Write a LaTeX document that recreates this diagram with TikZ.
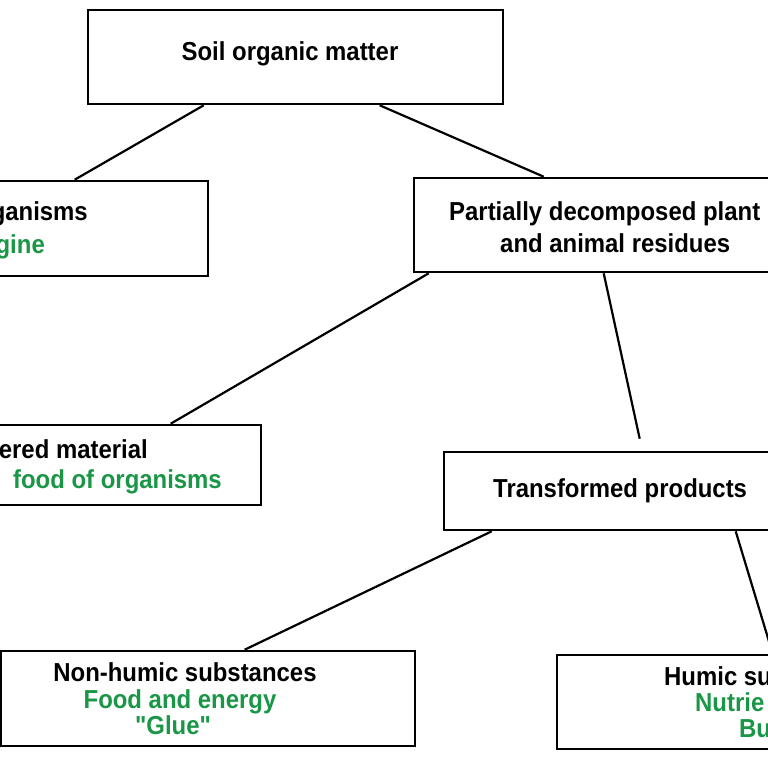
\documentclass[tikz,border=0pt]{standalone}
\usepackage{fontspec}
\setmainfont{Liberation Sans}[FakeStretch=0.92]
\newfontfamily\plainq{Liberation Sans}[FakeStretch=0.92]
\definecolor{grn}{RGB}{25,150,70}
\begin{document}
\begin{tikzpicture}[x=1pt,y=-1pt,
  box/.style={draw,line width=2.6pt,fill=none,inner sep=0pt},
  txt/.style={font=\fontsize{26}{30}\selectfont\bfseries,inner sep=0pt},
  gtxt/.style={txt,text=grn},
  link/.style={line width=2.2pt}]
\useasboundingbox (0,0) rectangle (768,768);
\fill[white] (0,0) rectangle (768,768);
\clip (0,0) rectangle (768,768);
% boxes
\node[box,minimum width=415pt,minimum height=94pt] (top) at (295.5,57) {};
\node[box,minimum width=268pt,minimum height=95pt] (org) at (74,228.5) {};
\node[box,minimum width=386pt,minimum height=94pt] (partial) at (607,225) {};
\node[box,minimum width=302pt,minimum height=80pt] (unalt) at (110,465) {};
\node[box,minimum width=376pt,minimum height=78pt] (trans) at (632,491) {};
\node[box,minimum width=414pt,minimum height=95pt] (nonh) at (208,698.5) {};
\node[box,minimum width=292pt,minimum height=94pt] (humic) at (703,702) {};
% connectors
\draw[link] ([xshift=117pt]top.south west) -- ([xshift=136pt]org.north west);
\draw[link] ([xshift=293pt]top.south west) -- ([xshift=131pt]partial.north west);
\draw[link] ([xshift=16pt]partial.south west) -- ([xshift=213pt]unalt.north west);
\coordinate (tend) at ([xshift=197pt,yshift=12pt]trans.north west);
\draw[link] ([xshift=191pt]partial.south west) -- (tend);
\draw[link] ([xshift=49pt]trans.south west) -- ([xshift=245pt]nonh.north west);
\draw[link] ([xshift=293pt]trans.south west) -- ([xshift=217pt]humic.north west);
% texts
\node[txt,anchor=base] (t1) at (290,61) {Soil organic matter};
\node[txt,anchor=base east] (t2) at (88,220) {ganisms};
\node[gtxt,anchor=base east] (t3) at (45,253) {gine};
\node[txt,anchor=base west] (t4) at (449,220) {Partially decomposed plant};
\node[txt,anchor=base west] (t5) at (500,252) {and animal residues};
\node[txt,anchor=base east] (t6) at (148,458) {ered material};
\node[gtxt,anchor=base east] (t7) at (222,488) {food of organisms};
\node[txt,anchor=base west] (t8) at (493,497) {Transformed products};
\node[txt,anchor=base] (t9) at (185,681) {Non-humic substances};
\node[gtxt,anchor=base] (t10) at (180,708) {Food and energy};
\node[gtxt,anchor=base] (t11) at (173,734) {\plainq\bfseries "Glue"};
\node[txt,anchor=base west] (t12) at (664,685) {Humic su};
\node[gtxt,anchor=base west] (t13) at (695,711) {Nutrie};
\node[gtxt,anchor=base west] (t14) at (739,737) {Bu};
\end{tikzpicture}
\end{document}
